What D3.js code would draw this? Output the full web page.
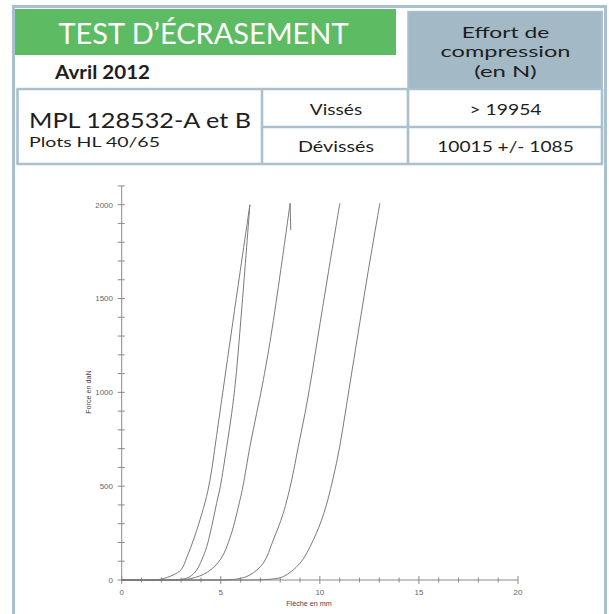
<!DOCTYPE html>
<html><head><meta charset="utf-8">
<script src="https://cdn.jsdelivr.net/npm/d3@7"></script>
<style>body{margin:0;background:#fff;} svg{display:block;}</style>
</head><body>
<svg id="c" width="609" height="614"></svg>
<script>
// ---- data ----
const title = "TEST D’ÉCRASEMENT";
const dateLabel = "Avril 2012";
const headerRight = ["Effort de", "compression", "(en N)"];
const productName = "MPL 128532-A et B";
const productSub = "Plots HL 40/65";
const rowLabels = ["Vissés", "Dévissés"];
const rowValues = ["> 19954", "10015 +/- 1085"];

const xTicks = [0, 5, 10, 15, 20];
const yTicks = [0, 500, 1000, 1500, 2000];
const xLabel = "Flèche en mm";
const yLabel = "Force en daN";

// curves: deflection (mm) and force (daN)
const curveA_x = [0, 1.5, 2.0, 2.6, 3.0, 3.3, 3.62, 3.95, 4.28, 4.5, 4.75, 5.1, 5.78, 6.47];
const curveA_f = [0, 0, 5, 27, 55, 124, 213, 320, 444, 560, 740, 1000, 1500, 2000];
const curveB_x = [0, 2.0, 3.03, 3.45, 3.78, 4.04, 4.29, 4.54, 4.79, 4.98, 5.3, 5.55, 5.75, 6.1, 6.47];
const curveB_f = [0, 0, 4, 18, 53, 107, 177, 284, 409, 500, 710, 888, 1066, 1500, 2000];
const curveC_x = [0, 2.5, 3.5, 4.33, 5.0, 5.5, 5.98, 6.12, 6.47, 6.81, 7.1, 7.53, 8.03, 8.5];
const curveC_f = [0, 0, 8, 42, 112, 236, 431, 500, 710, 888, 1040, 1298, 1654, 2008];
const curveC_tail_x = [8.5, 8.53];
const curveC_tail_f = [2008, 1865];
const curveD_x = [0, 4.0, 5.8, 6.47, 7.14, 7.65, 8.15, 8.58, 8.91, 9.25, 9.55, 9.9, 10.4, 11.01];
const curveD_f = [0, 0, 5, 27, 89, 213, 355, 533, 710, 888, 1066, 1295, 1620, 2008];
const curveE_x = [0, 5.0, 7.48, 8.15, 9.0, 9.67, 10.2, 10.65, 11.0, 11.28, 11.55, 11.9, 12.4, 13.03];
const curveE_f = [0, 0, 4, 18, 89, 213, 355, 533, 710, 888, 1066, 1295, 1620, 2008];

const curves = [
  [curveA_x, curveA_f], [curveB_x, curveB_f], [curveC_x, curveC_f],
  [curveD_x, curveD_f], [curveE_x, curveE_f]
];

// ---- drawing ----
const svg = d3.select("#c");
const BORDER = "#a9c0cf";
const TXT = "#1e1e1e";
const HFONT = "Lato, 'Open Sans', sans-serif";

function txt(x, yb, s, size, width, opts = {}) {
  const t = svg.append("text").attr("x", x).attr("y", yb)
    .attr("font-family", HFONT).attr("font-size", size)
    .attr("fill", opts.fill || TXT).attr("font-weight", opts.bold ? "bold" : "normal")
    .attr("text-anchor", opts.anchor || "start")
    .attr("textLength", width).attr("lengthAdjust", "spacingAndGlyphs").text(s);
  return t;
}

// outer frame
svg.append("rect").attr("x", 13.5).attr("y", 6.5).attr("width", 592).attr("height", 640)
  .attr("fill", "none").attr("stroke", BORDER).attr("stroke-width", 3);

// green title box
svg.append("rect").attr("x", 15).attr("y", 9).attr("width", 381).attr("height", 46).attr("fill", "#5cbb63");
txt(58.5, 43.5, title, 28, 290, { fill: "#fff" });
txt(55, 78.5, dateLabel, 18, 95, { bold: true });

// gray header box
svg.append("rect").attr("x", 408).attr("y", 11.5).attr("width", 194).attr("height", 77.5)
  .attr("fill", "#a3b9c6").attr("stroke", BORDER).attr("stroke-width", 1.5);
const hrW = [87.5, 130, 62.5];
const hrY = [37.8, 57.2, 77];
headerRight.forEach((t, i) => txt(505.5, hrY[i], t, 15.5, hrW[i], { anchor: "middle" }));

// table grid
const g = svg.append("g").attr("stroke", BORDER).attr("stroke-width", 2.6).attr("fill", "none");
g.append("line").attr("x1", 16.5).attr("x2", 603).attr("y1", 89).attr("y2", 89);
g.append("line").attr("x1", 262).attr("x2", 603).attr("y1", 127).attr("y2", 127);
g.append("line").attr("x1", 16.5).attr("x2", 603).attr("y1", 164).attr("y2", 164);
[17.5, 262, 408, 602].forEach(x => g.append("line").attr("x1", x).attr("x2", x).attr("y1", 89).attr("y2", 164));
g.append("line").attr("x1", 602).attr("x2", 602).attr("y1", 11).attr("y2", 89).attr("stroke-width", 2);

txt(29, 128, productName, 21, 222);
txt(29, 146.8, productSub, 14, 131);

const rlW = [52.4, 76], rvW = [72, 136.5], rY = [115, 151.5];
rowLabels.forEach((t, i) => {
  txt(336, rY[i], t, 16, rlW[i], { anchor: "middle" });
  txt(505.5, rY[i], rowValues[i], 16, rvW[i], { anchor: "middle" });
});

// ---- chart ----
const x = d3.scaleLinear().domain([0, 20]).range([121.7, 518]);
const y = d3.scaleLinear().domain([0, 2000]).range([580, 204.7]);
const AX = "#8a8a8a";
const CF = "'Liberation Sans', Arial, sans-serif";
const ch = svg.append("g");

// y axis
ch.append("line").attr("x1", x(0)).attr("x2", x(0)).attr("y1", y(0)).attr("y2", y(2100))
  .attr("stroke", AX).attr("stroke-width", 1);
d3.range(0, 2101, 100).forEach(v => {
  ch.append("line").attr("x1", x(0) - 4).attr("x2", x(0) + 3).attr("y1", y(v)).attr("y2", y(v))
    .attr("stroke", AX).attr("stroke-width", 1);
});
yTicks.forEach(v => {
  ch.append("text").attr("x", 113).attr("y", y(v) + 2.8).attr("text-anchor", "end")
    .attr("font-family", CF).attr("font-size", 8).attr("fill", "#666").text(v);
});
// x axis
ch.append("line").attr("x1", x(0)).attr("x2", x(20)).attr("y1", y(0)).attr("y2", y(0))
  .attr("stroke", AX).attr("stroke-width", 1);
d3.range(0, 21, 1).forEach(v => {
  const L = v % 5 === 0 ? 4 : 2.5;
  ch.append("line").attr("x1", x(v)).attr("x2", x(v)).attr("y1", y(0) - L).attr("y2", y(0) + L)
    .attr("stroke", AX).attr("stroke-width", 1);
});
xTicks.forEach(v => {
  ch.append("text").attr("x", x(v)).attr("y", 594.5).attr("text-anchor", "middle")
    .attr("font-family", CF).attr("font-size", 8).attr("fill", "#666").text(v);
});
ch.append("text").attr("x", 309).attr("y", 605.5).attr("text-anchor", "middle")
  .attr("font-family", CF).attr("font-size", 7.2).attr("fill", "#444").text(xLabel);
ch.append("text").attr("transform", "translate(90.5,392) rotate(-90)").attr("text-anchor", "middle")
  .attr("font-family", CF).attr("font-size", 7.2).attr("fill", "#444").text(yLabel);

// curves
const line = d3.line().x(d => x(d[0])).y(d => y(d[1])).curve(d3.curveCatmullRom.alpha(0.5));
const straight = d3.line().x(d => x(d[0])).y(d => y(d[1]));
const CURVE = "#7a7a7a";
curves.forEach(([xs, fs]) => {
  const pts = xs.map((v, i) => [v, fs[i]]);
  ch.append("path").attr("d", line(pts)).attr("fill", "none")
    .attr("stroke", CURVE).attr("stroke-width", 1);
});
ch.append("path").attr("d", straight(curveC_tail_x.map((v, i) => [v, curveC_tail_f[i]])))
  .attr("fill", "none").attr("stroke", CURVE).attr("stroke-width", 1);
</script>
</body></html>
